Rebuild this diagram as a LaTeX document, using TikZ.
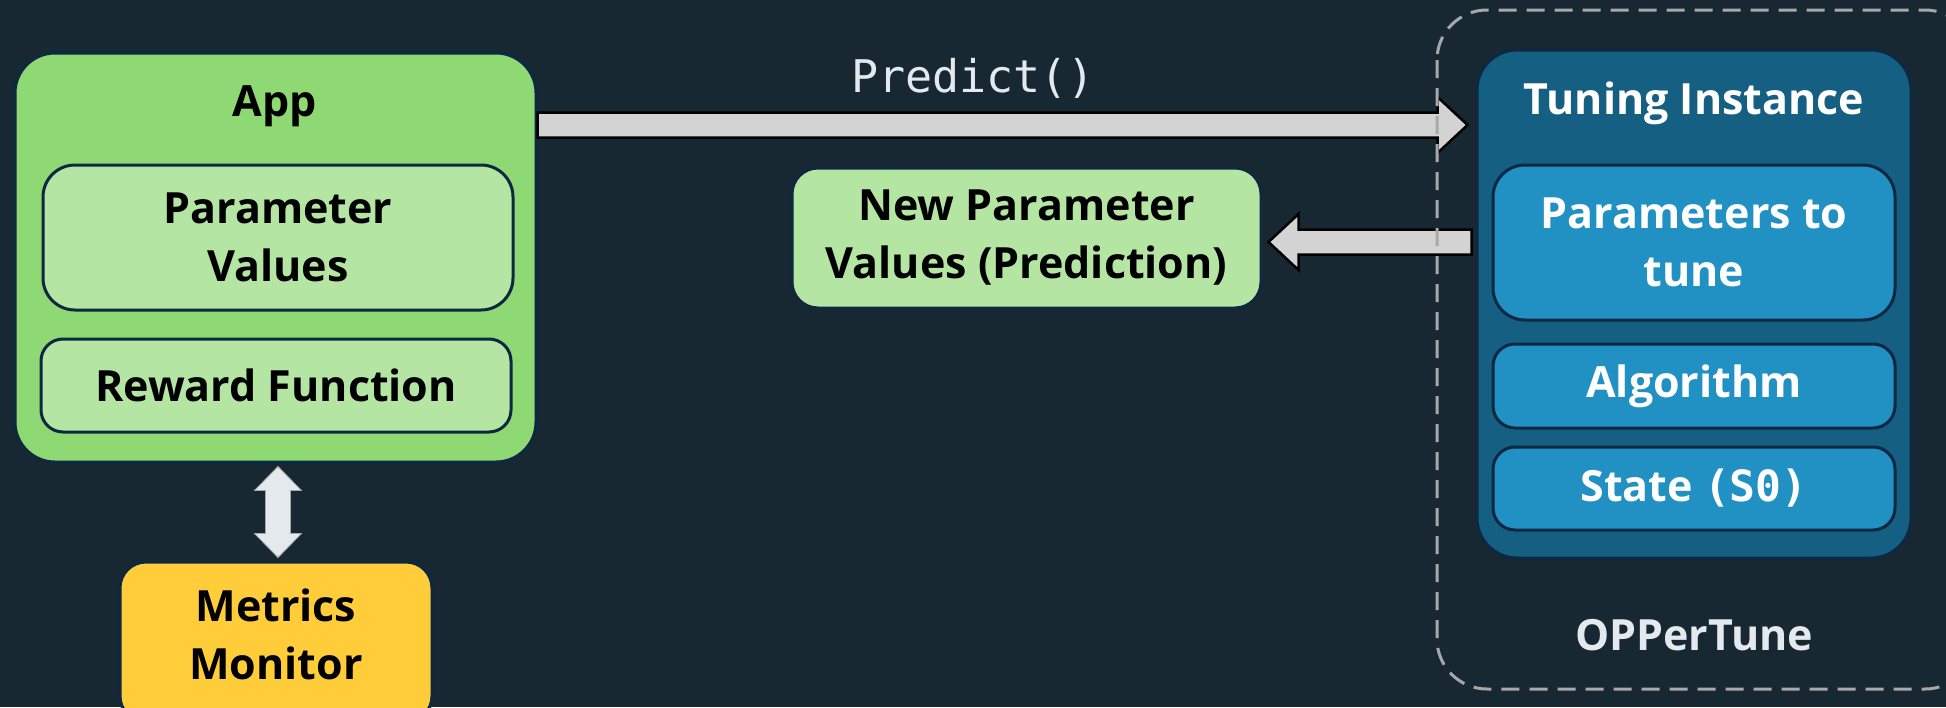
\documentclass[tikz,border=0pt]{standalone}
\usepackage{fontspec}
\setmainfont{Open Sans}
\newfontfamily\codefont{DejaVu Sans Mono}
\usetikzlibrary{calc}

\definecolor{bg}{HTML}{172833}
\definecolor{edge}{HTML}{0E2841}
\definecolor{appgreen}{HTML}{8ED973}
\definecolor{palegreen}{HTML}{B4E5A2}
\definecolor{gold}{HTML}{FFCC3A}
\definecolor{deepblue}{HTML}{156082}
\definecolor{midblue}{HTML}{2190C3}
\definecolor{arrowgray}{HTML}{D3D3D3}
\definecolor{paleink}{HTML}{E3E9ED}
\definecolor{dashgray}{HTML}{A8A8A8}

% horizontal block arrow: #1 tail point, #2 tip point
\newcommand{\hblockarrow}[2]{%
  \draw[blockarrow] let \p1=(#1), \p2=(#2), \n1={sign(\x2-\x1)} in
    (\x1,\y1+12.5pt) -- (\x2-\n1*30pt,\y1+12.5pt) -- (\x2-\n1*30pt,\y1+28pt)
    -- (\x2,\y1) -- (\x2-\n1*30pt,\y1-28pt) -- (\x2-\n1*30pt,\y1-12.5pt)
    -- (\x1,\y1-12.5pt) -- cycle;}

\begin{document}
\begin{tikzpicture}[x=1pt,y=-1pt,
  lbl/.style={font=\fontsize{43}{58}\selectfont\bfseries, align=center},
  box/.style={draw=edge, line width=3pt, inner sep=0pt},
  outergreen/.style={box, fill=appgreen, rounded corners=40pt},
  innergreen/.style={box, fill=palegreen, lbl, text=black},
  outerblue/.style={box, fill=deepblue, rounded corners=40pt},
  innerblue/.style={box, fill=midblue, lbl, text=white},
  blockarrow/.style={draw=black, line width=2.5pt, fill=arrowgray, line join=miter},
  dblarrow/.style={draw=dashgray, line width=0.8pt, fill=paleink},
]
% canvas
\fill[bg] (0,0) rectangle (1946,707);
\useasboundingbox (0,0) rectangle (1946,707);

% application side
\node[outergreen, minimum width=521pt, minimum height=409pt] (app) at (275.5,257.5) {};
\node[lbl, text=black] (apptitle) at (275,106) {App};
\node[innergreen, rounded corners=32pt, minimum width=470pt, minimum height=145pt] (pvals) at (278,237.5) {Parameter\\Values};
\node[innergreen, rounded corners=22pt, minimum width=470pt, minimum height=93pt] (reward) at (276,385.5) {Reward Function};

\node[box, fill=gold, rounded corners=26pt, minimum width=312pt, minimum height=160pt] (metrics) at (276,642) {};
\node[lbl, text=black] (metricstext) at (276,634) {Metrics\\Monitor};

% link between app and metrics monitor
\draw[dblarrow] let \p1=($(app.south)+(2.5,3)$), \p2=($(metrics.north)+(2,-3)$) in
  (\x1,\y1) -- (\x1+23.5pt,\y1-24pt) -- (\x1+12.5pt,\y1-24pt) -- (\x1+12.5pt,\y2+24pt)
  -- (\x1+23.5pt,\y2+24pt) -- (\x1,\y2) -- (\x1-23.5pt,\y2+24pt) -- (\x1-12.5pt,\y2+24pt)
  -- (\x1-12.5pt,\y1-24pt) -- (\x1-23.5pt,\y1-24pt) -- cycle;

% prediction result
\node[innergreen, rounded corners=26pt, minimum width=469pt, minimum height=140pt] (newp) at (1026.5,238) {New Parameter\\Values (Prediction)};

% tuner side
\node[outerblue, minimum width=434pt, minimum height=508pt] (tune) at (1694,304) {};
\node[lbl, text=white] (tunetitle) at (1694,103) {Tuning Instance};
\node[innerblue, rounded corners=32pt, minimum width=402pt, minimum height=155pt] (ptune) at (1694,242.5) {Parameters to\\tune};
\node[innerblue, rounded corners=22pt, minimum width=402pt, minimum height=84pt] (algo) at (1694,386) {Algorithm};
\node[innerblue, rounded corners=22pt, minimum width=402pt, minimum height=83pt] (state) at (1694,488.5) {State {\codefont\bfseries (S0)}};
\node[lbl, text=paleink] (oppertune) at (1694,635) {OPPerTune};

% calls between the two sides
\node[font=\codefont\fontsize{45}{54}\selectfont, text=paleink] (predict) at (973,78) {Predict()};
\hblockarrow{app.east |- 0,125}{$(tune.west |- 0,125)+(-8,0)$}
\hblockarrow{$(tune.west |- 0,242)+(-4,0)$}{$(newp.east |- 0,242)+(6,0)$}

% service boundary
\draw[dashgray, line width=3pt, dash pattern=on 18pt off 10pt, rounded corners=50pt]
  (1437,10) rectangle (1975,689);
\end{tikzpicture}
\end{document}
